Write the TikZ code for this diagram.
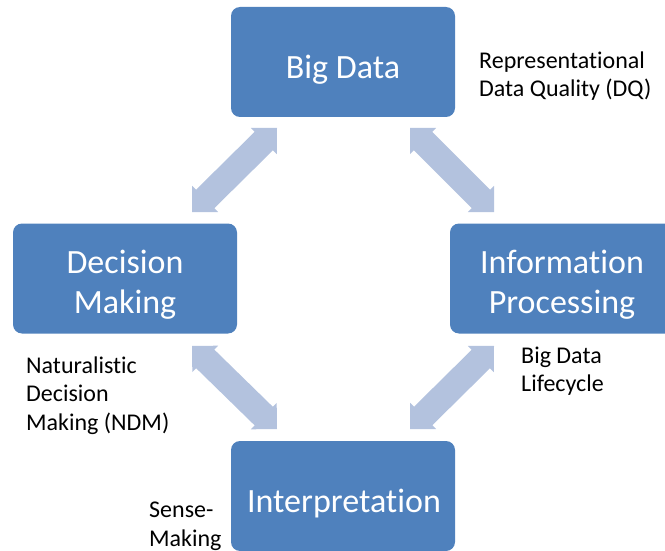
\documentclass[tikz,border=0pt]{standalone}
\usepackage{fontspec}
\setmainfont{Carlito}[Ligatures=NoCommon]
\usetikzlibrary{calc}
\definecolor{boxblue}{RGB}{79,129,189}
\definecolor{arrowblue}{RGB}{179,194,222}
\newcommand\arrHL{18.5pt}
\newcommand\arrHW{18.5pt}
\newcommand\arrSW{13pt}
\newcommand\dblarrow[2]{%
  \path ($(#1)!\arrHL!(#2)$) coordinate (ba) ($(#2)!\arrHL!(#1)$) coordinate (bb);
  \fill[arrowblue] (#1) -- ($(ba)!\arrHW!90:(#2)$) -- ($(ba)!\arrSW!90:(#2)$)
    -- ($(bb)!\arrSW!-90:(#1)$) -- ($(bb)!\arrHW!-90:(#1)$) -- (#2)
    -- ($(bb)!\arrHW!90:(#1)$) -- ($(bb)!\arrSW!90:(#1)$)
    -- ($(ba)!\arrSW!-90:(#2)$) -- ($(ba)!\arrHW!-90:(#2)$) -- cycle;}
\begin{document}
\begin{tikzpicture}[x=1pt,y=-1pt,
  box/.style={fill=boxblue, rounded corners=9pt, inner sep=0pt, outer sep=0pt,
    minimum width=224pt, minimum height=110pt},
  boxtext/.style={text=white, font=\fontsize{34}{40}\selectfont, align=center, inner sep=0pt},
  note/.style={font=\fontsize{24}{28.5}\selectfont, align=left, inner sep=0pt, anchor=base west}]
\useasboundingbox (0,0) rectangle (665,551);
% boxes
\node[box] (bd) at (343,62) {};
\node[box] (dm) at (125,278.5) {};
\node[box] (ip) at (562,278.5) {};
\node[box] (in) at (343,496) {};
% box texts (base = baseline of last line)
\node[boxtext, anchor=base] (bdt) at (343,78.3) {Big Data};
\node[boxtext, anchor=base] (dmt) at (125,313) {Decision\\Making};
\node[boxtext, anchor=base] (ipt) at (562,313) {Information\\Processing};
\node[boxtext, anchor=base] (int) at (344,512) {Interpretation};
% arrow ends
\coordinate (a1s) at (192,212); \coordinate (a1e) at (277,128);
\coordinate (a2s) at (410,128); \coordinate (a2e) at (494,212);
\coordinate (a3s) at (192,346); \coordinate (a3e) at (277,429);
\coordinate (a4s) at (494,346); \coordinate (a4e) at (410,429);
\dblarrow{a1s}{a1e}
\dblarrow{a2s}{a2e}
\dblarrow{a3s}{a3e}
\dblarrow{a4s}{a4e}
% notes
\node[note] (n1) at (479,96.7) {Representational\\Data Quality (DQ)};
\node[note] (n2) at (26,430) {Naturalistic\\Decision\\Making (NDM)};
\node[note] (n3) at (521,391.7) {Big Data\\Lifecycle};
\node[note] (n4) at (149,546) {Sense-\\Making};
\end{tikzpicture}
\end{document}
